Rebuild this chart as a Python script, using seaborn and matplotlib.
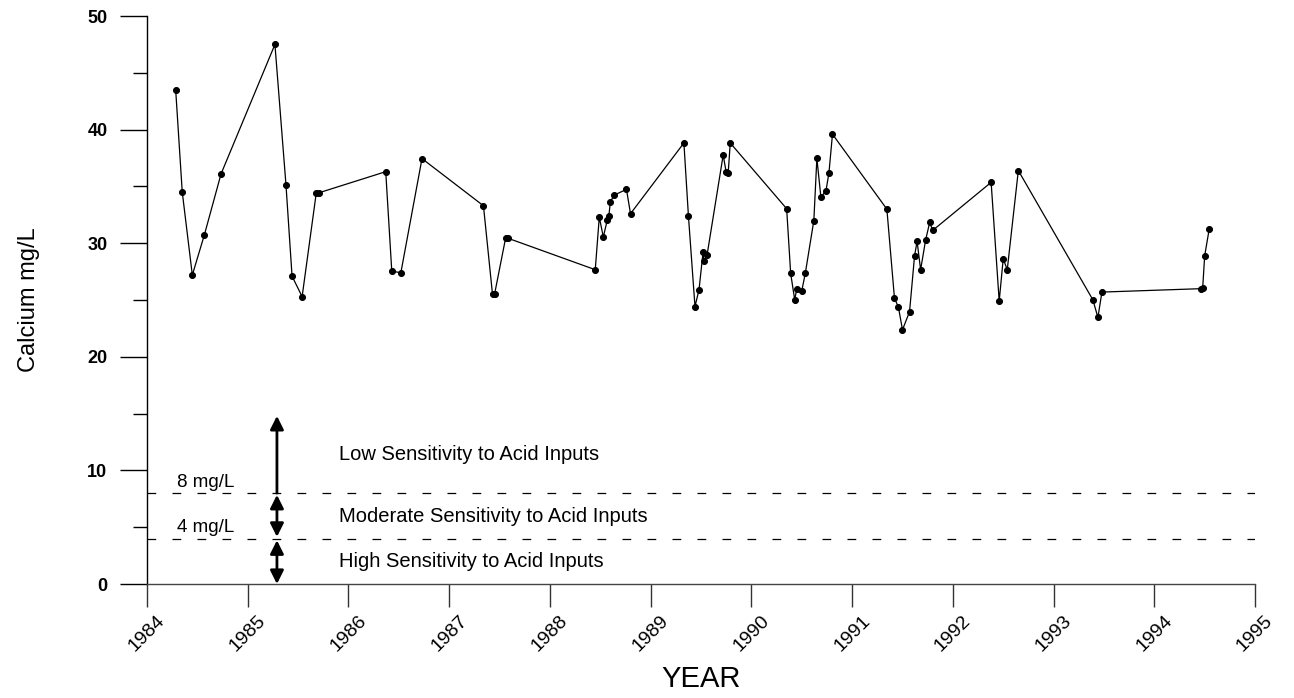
import matplotlib
matplotlib.use("Agg")
import matplotlib.pyplot as plt
from matplotlib.ticker import MultipleLocator
import seaborn as sns
import pandas as pd

# ---- data ----
years = [
    1984.285, 1984.35, 1984.45, 1984.57, 1984.735, 1985.27, 1985.38, 1985.44, 1985.54,
    1985.68, 1985.71, 1986.37, 1986.43, 1986.52, 1986.73, 1987.34, 1987.43, 1987.45,
    1987.56, 1987.58, 1988.45, 1988.49, 1988.53, 1988.57, 1988.585, 1988.60, 1988.64,
    1988.76, 1988.80, 1989.33, 1989.375, 1989.44, 1989.48, 1989.52, 1989.53, 1989.56,
    1989.72, 1989.75, 1989.77, 1989.79, 1990.35, 1990.39, 1990.43, 1990.45, 1990.50,
    1990.535, 1990.62, 1990.65, 1990.69, 1990.74, 1990.77, 1990.805, 1991.345, 1991.42,
    1991.46, 1991.50, 1991.57, 1991.62, 1991.645, 1991.68, 1991.73, 1991.77, 1991.80,
    1992.38, 1992.46, 1992.50, 1992.54, 1992.65, 1993.39, 1993.44, 1993.48, 1994.46,
    1994.48, 1994.50, 1994.545,
]
calcium = [
    43.46, 34.5, 27.2, 30.75, 36.1, 47.5, 35.1, 27.1, 25.3,
    34.4, 34.45, 36.3, 27.55, 27.4, 37.45, 33.3, 25.5, 25.5,
    30.45, 30.45, 27.67, 32.3, 30.55, 32.07, 32.4, 33.66, 34.25,
    34.74, 32.6, 38.83, 32.4, 24.43, 25.9, 29.2, 28.43, 28.96,
    37.77, 36.24, 36.2, 38.83, 33.04, 27.34, 25.02, 25.96, 25.8,
    27.34, 32.0, 37.47, 34.07, 34.6, 36.2, 39.6, 33.0, 25.2,
    24.35, 22.38, 23.97, 28.9, 30.16, 27.67, 30.3, 31.83, 31.13,
    35.36, 24.9, 28.63, 27.67, 36.4, 25.02, 23.47, 25.7, 26.0,
    26.05, 28.9, 31.25,
]
x_ticks = list(range(1984, 1996))
y_ticks = [0, 10, 20, 30, 40, 50]
thresholds = [8, 4]
threshold_labels = ["8 mg/L", "4 mg/L"]
zone_labels = ["Low Sensitivity to Acid Inputs",
               "Moderate Sensitivity to Acid Inputs",
               "High Sensitivity to Acid Inputs"]
zone_label_y = [11.4, 5.9, 2.0]
arrow_x = 1985.29
arrow_spans = [(8.0, 14.8), (4.15, 7.85), (0.0, 3.85)]

df = pd.DataFrame({"YEAR": years, "Calcium": calcium})

sns.set_style("ticks")
plt.rcParams["font.family"] = ["Liberation Sans", "DejaVu Sans"]
plt.rcParams["text.color"] = "black"
plt.rcParams["axes.labelcolor"] = "black"
plt.rcParams["xtick.color"] = "black"
plt.rcParams["ytick.color"] = "black"

fig = plt.figure(figsize=(12.94, 6.98), dpi=100)
ax = fig.add_axes([0.1136, 0.1633, 0.8563, 0.8137])

sns.lineplot(data=df, x="YEAR", y="Calcium", ax=ax, estimator=None, sort=False,
             color="black", linewidth=0.9, marker="o", markersize=4.3,
             markeredgecolor="black", markerfacecolor="black", clip_on=False)

ax.set_xlim(1984, 1995)
ax.set_ylim(0, 50)
ax.set_xticks(x_ticks)
ax.set_xticklabels([str(t) for t in x_ticks], rotation=45, ha="center", va="top",
                   fontsize=14)
ax.set_yticks(y_ticks)
ax.set_yticklabels([str(t) for t in y_ticks], fontsize=13, fontweight="bold")
ax.yaxis.set_minor_locator(MultipleLocator(5))

ax.tick_params(axis="y", which="major", length=19.5, width=1, pad=9)
ax.tick_params(axis="y", which="minor", length=10, width=1)
ax.tick_params(axis="x", which="major", length=16.5, width=1, pad=4, color="#333333")

sns.despine(ax=ax)
for s in ["left", "bottom"]:
    ax.spines[s].set_linewidth(1)
ax.spines["left"].set_color("black")
ax.spines["bottom"].set_color("#444444")

ax.set_xlabel("YEAR", fontsize=21, labelpad=7)
ax.set_ylabel("Calcium mg/L", fontsize=17)
ax.yaxis.set_label_coords(-0.097, 0.5)

# threshold dashed lines
for t, lab in zip(thresholds, threshold_labels):
    ax.axhline(t, color="black", linewidth=0.9, dashes=(7, 13), zorder=1)
    ax.text(1984.3, t + 0.2, lab, fontsize=13.5, ha="left", va="bottom")

# arrows
for i, (y0, y1) in enumerate(arrow_spans):
    style = "-|>" if i == 0 else "<|-|>"
    ax.annotate("", xy=(arrow_x, y1), xytext=(arrow_x, y0),
                arrowprops=dict(arrowstyle=style, color="black", lw=2,
                                mutation_scale=20, shrinkA=0, shrinkB=0))

for lab, yy in zip(zone_labels, zone_label_y):
    ax.text(1985.91, yy, lab, fontsize=14.5, ha="left", va="center")

fig.savefig("out.png", dpi=100)
